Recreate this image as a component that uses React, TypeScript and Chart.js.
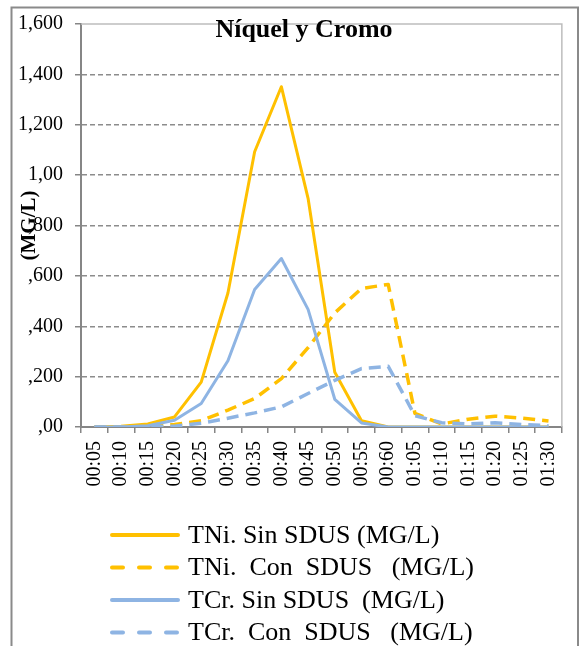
import React, { useEffect, useRef } from 'react';
import { Chart, registerables } from 'chart.js';

Chart.register(...registerables);

const categories = [
  '00:05', '00:10', '00:15', '00:20', '00:25', '00:30', '00:35', '00:40', '00:45',
  '00:50', '00:55', '00:60', '01:05', '01:10', '01:15', '01:20', '01:25', '01:30',
];
const tniSin = [0, 3, 12, 40, 178, 532, 1093, 1351, 908, 217, 25, 0, 0, 0, 0, 0, 0, 0];
const tniCon = [0, 0, 2, 10, 25, 67, 113, 192, 315, 453, 550, 566, 54, 12, 31, 43, 35, 24];
const tcrSin = [0, 0, 5, 27, 93, 263, 546, 669, 467, 110, 16, 0, 0, 0, 0, 0, 0, 0];
const tcrCon = [0, 0, 0, 3, 15, 35, 56, 80, 133, 185, 232, 241, 45, 17, 12, 17, 10, 5];
const yTickLabels = [',00', ',200', ',400', ',600', ',800', '1,00', '1,200', '1,400', '1,600'];
const seriesNames = [
  'TNi. Sin SDUS (MG/L)',
  'TNi.  Con  SDUS   (MG/L)',
  'TCr. Sin SDUS  (MG/L)',
  'TCr.  Con  SDUS   (MG/L)',
];
const titleText = 'Níquel y Cromo';
const yTitle = '(MG/L)';

const ORANGE = '#FFC000';
const BLUE = '#8EB4E3';
const FAMILY = '"Liberation Serif", "Times New Roman", serif';

const decorPlugin = {
  id: 'decor',
  afterDraw(chart: any) {
    const { ctx, chartArea } = chart;
    ctx.save();
    // outer frame
    ctx.strokeStyle = '#8a8a8a';
    ctx.lineWidth = 2;
    ctx.strokeRect(11.5, 7.5, 566.5, 700);
    // plot border top/right
    ctx.strokeStyle = '#bdbdbd';
    ctx.lineWidth = 1.5;
    ctx.beginPath();
    ctx.moveTo(chartArea.left, chartArea.top);
    ctx.lineTo(chartArea.right, chartArea.top);
    ctx.lineTo(chartArea.right, chartArea.bottom);
    ctx.stroke();
    // title
    ctx.fillStyle = '#000';
    ctx.font = 'bold 26px ' + FAMILY;
    ctx.textAlign = 'center';
    ctx.textBaseline = 'alphabetic';
    ctx.fillText(titleText, 304, 37);
    // legend
    const ds = chart.data.datasets;
    for (let i = 0; i < ds.length; i++) {
      const y = 535 + 32.5 * i;
      ctx.strokeStyle = ds[i].borderColor;
      ctx.lineWidth = 4;
      ctx.lineCap = 'round';
      ctx.setLineDash(ds[i].borderDash && ds[i].borderDash.length ? [11, 16] : []);
      ctx.beginPath();
      ctx.moveTo(112, y);
      ctx.lineTo(178, y);
      ctx.stroke();
      ctx.setLineDash([]);
      ctx.fillStyle = '#000';
      ctx.font = '26px ' + FAMILY;
      ctx.textAlign = 'left';
      ctx.textBaseline = 'middle';
      ctx.fillText(ds[i].label, 188, y + 1);
    }
    ctx.restore();
  },
};

export default function App() {
  const ref = useRef<HTMLCanvasElement>(null);
  useEffect(() => {
    if (!ref.current) return;
    const mk = (label: string, data: number[], color: string, dashed: boolean, order: number) => ({
      label,
      data,
      borderColor: color,
      backgroundColor: color,
      borderWidth: dashed ? 3.5 : 3,
      borderDash: dashed ? [12, 7] : [],
      borderJoinStyle: 'round',
      pointRadius: 0,
      tension: 0,
      fill: false,
      order,
    });
    const chart = new Chart(ref.current, {
      type: 'line',
      data: {
        labels: categories,
        datasets: [
          mk(seriesNames[0], tniSin, ORANGE, false, 3),
          mk(seriesNames[1], tniCon, ORANGE, true, 2),
          mk(seriesNames[2], tcrSin, BLUE, false, 1),
          mk(seriesNames[3], tcrCon, BLUE, true, 0),
        ] as any,
      },
      options: {
        responsive: false,
        animation: false,
        layout: { padding: { left: 11, right: 18, top: 20, bottom: 0 } },
        plugins: { legend: { display: false }, title: { display: false }, tooltip: { enabled: false } },
        scales: {
          x: {
            offset: true,
            grid: {
              display: true,
              drawOnChartArea: false,
              drawTicks: true,
              tickLength: 6,
              offset: true,
              color: '#868686',
              lineWidth: 1.5,
            },
            border: { display: true, color: '#868686', width: 2 },
            ticks: {
              autoSkip: false,
              maxRotation: 90,
              minRotation: 90,
              padding: 8,
              color: '#000',
              font: { family: FAMILY, size: 20 },
            },
            afterFit: (s: any) => { s.height = 219; },
          },
          y: {
            min: 0,
            max: 1600,
            ticks: {
              stepSize: 200,
              callback: (_v: any, i: number) => yTickLabels[i],
              padding: 12,
              color: '#000',
              font: { family: FAMILY, size: 20 },
            },
            grid: {
              color: (c: any) => (c.tick && (c.tick.value === 1600 || c.tick.value === 0) ? 'rgba(0,0,0,0)' : '#8c8c8c'),
              tickColor: '#868686',
              tickLength: 6,
              lineWidth: 1.5,
            },
            border: { display: true, color: '#868686', width: 2, dash: [5, 3] },
            title: {
              display: true,
              text: yTitle,
              color: '#000',
              font: { family: FAMILY, size: 21, weight: 'bold' },
              padding: { top: 6, bottom: 0 },
            },
            afterFit: (s: any) => { s.width = 70; },
          },
        },
      } as any,
      plugins: [decorPlugin],
    });
    return () => chart.destroy();
  }, []);
  return (
    <div style={{ position: 'fixed', left: 0, top: 0, width: 581, height: 646, background: '#fff' }}>
      <canvas ref={ref} width={581} height={646} style={{ display: 'block' }} />
    </div>
  );
}
